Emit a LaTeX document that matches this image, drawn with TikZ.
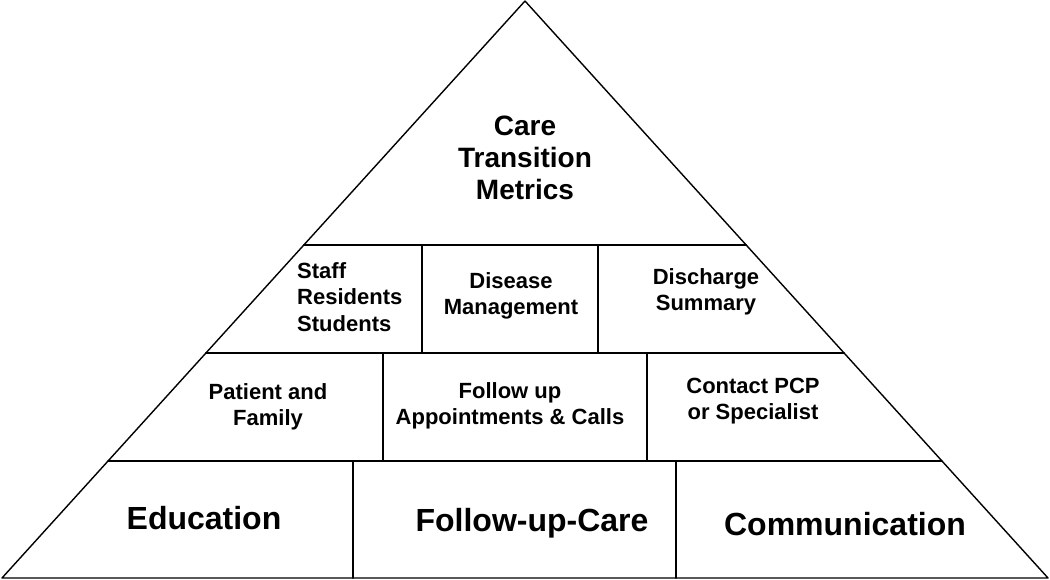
\documentclass[tikz,border=0pt]{standalone}
\usepackage{fontspec}
\setmainfont{Liberation Sans}
\usetikzlibrary{calc}
\begin{document}
\begin{tikzpicture}[x=1pt, y=-1pt, line cap=round, line join=round, font=\bfseries]
	\tikzset{small text/.style={font=\bfseries\fontsize{22}{26.5}\selectfont, align=center, inner sep=0pt},
		big text/.style={font=\bfseries\fontsize{32}{34}\selectfont, inner sep=0pt},
		divider/.style={line width=1.8pt}}
	\useasboundingbox (0,0) rectangle (1050,580);
	\coordinate (top) at (525,1);
	\coordinate (bl) at (2,578);
	\coordinate (br) at (1048,578);
	\draw[line width=1.4pt] (top)--(bl)--(br)--cycle;
	\draw[divider] ($(top)!0.4229!(bl)$)--($(top)!0.4229!(br)$)
	($(top)!0.6101!(bl)$)--($(top)!0.6101!(br)$)
	($(top)!0.7972!(bl)$)--($(top)!0.7972!(br)$);
	\draw[divider] (422,245)--(422,353) (598,245)--(598,353)
	(383,353)--(383,461) (647,353)--(647,461)
	(353,461)--(353,578) (676,461)--(676,578);
	\node[font=\bfseries\fontsize{28}{32}\selectfont, align=center, inner sep=0pt] (metrics) at (525,158) {Care\\Transition\\Metrics};
	\node[small text, align=left, anchor=west] (staff) at (297,297) {Staff\\Residents\\Students};
	\node[small text] (disease) at (511,296) {Disease\\Management};
	\node[small text] (discharge) at (706,292) {Discharge\\Summary};
	\node[small text] (patient) at (268,407) {Patient and\\Family};
	\node[small text] (followup) at (510,406) {Follow up\\Appointments \& Calls};
	\node[small text] (contact) at (753,401) {Contact PCP\\or Specialist};
	\node[big text] (education) at (204,518) {Education};
	\node[big text] (care) at (532,523) {Follow-up-Care};
	\node[big text] (communication) at (845,524) {Communication};
\end{tikzpicture}
\end{document}
